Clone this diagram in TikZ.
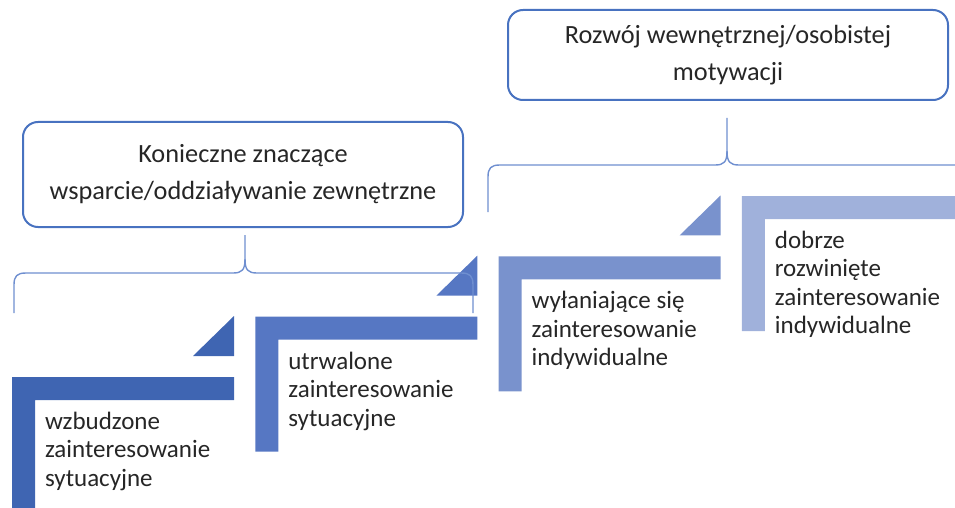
\documentclass[tikz,border=0pt]{standalone}
\usepackage{fontspec}
\setmainfont{Carlito}
\usetikzlibrary{positioning}

\definecolor{stepA}{RGB}{63,101,178}
\definecolor{stepB}{RGB}{86,119,195}
\definecolor{stepC}{RGB}{121,146,205}
\definecolor{stepD}{RGB}{160,177,219}
\definecolor{boxblue}{RGB}{72,114,192}
\definecolor{braceblue}{RGB}{111,143,208}
\definecolor{textgray}{RGB}{38,38,38}

% bracket: left x, middle x, right x, tip y, bar y, end y
\newcommand{\bracepath}[6]{%
  \draw[bracket] (#1,#6) -- (#1,#5+12) .. controls (#1,#5+3) and (#1+3,#5) .. (#1+12,#5)
    -- (#2-12,#5) .. controls (#2-3,#5) and (#2,#5-3) .. (#2,#5-14) -- (#2,#4);
  \draw[bracket] (#2,#5-14) .. controls (#2,#5-3) and (#2+3,#5) .. (#2+12,#5)
    -- (#3-12,#5) .. controls (#3-3,#5) and (#3,#5+3) .. (#3,#5+12) -- (#3,#6);
}

\begin{document}
\begin{tikzpicture}
[   x=1pt, y=-1pt,
    font = \fontsize{25}{28.5}\selectfont,
    inner sep=0pt,
    outer sep=0pt,
    text=textgray,
    steplabel/.style={anchor=north west, align=left},
    goalbox/.style={draw=boxblue, line width=2pt, rounded corners=15pt,
        minimum width=440pt, align=center, font=\fontsize{26.3}{37}\selectfont},
    bracket/.style={draw=braceblue, line width=1.4pt}
]
\useasboundingbox (0,0) rectangle (955,508);
\clip (0,0) rectangle (955,508);

% steps
\foreach \i/\col/\txt in {%
    0/stepA/{wzbudzone\\zainteresowanie\\sytuacyjne},
    1/stepB/{utrwalone\\zainteresowanie\\sytuacyjne},
    2/stepC/{wyłaniające się\\zainteresowanie\\indywidualne},
    3/stepD/{dobrze\\rozwinięte\\zainteresowanie\\indywidualne}}
{
  \pgfmathsetmacro{\sx}{12+243.3*\i}
  \pgfmathsetmacro{\sy}{377-60.3*\i}
  \coordinate (step\i) at (\sx,\sy);
  \fill[\col] (step\i) -- ++(222,0) -- ++(0,23) -- ++(-199,0) -- ++(0,112) -- ++(-23,0) -- cycle;
  \ifnum\i<3
    \fill[\col] (\sx+181,\sy-21) -- (\sx+222,\sy-21) -- (\sx+222,\sy-61) -- cycle;
  \fi
  \node[steplabel] (label\i) at (\sx+33,\sy+35) {\txt};
}

% goals
\node[goalbox, minimum height=105pt] (external) at (243,174.5)
    {Konieczne znaczące\\wsparcie/oddziaływanie zewnętrzne};
\node[goalbox, minimum height=90pt] (internal) at (728,55)
    {Rozwój wewnętrznej/osobistej\\motywacji};

% brackets
\bracepath{14}{245}{473}{235}{273}{313}
\bracepath{488}{727}{990}{118}{165}{212}
\end{tikzpicture}
\end{document}
